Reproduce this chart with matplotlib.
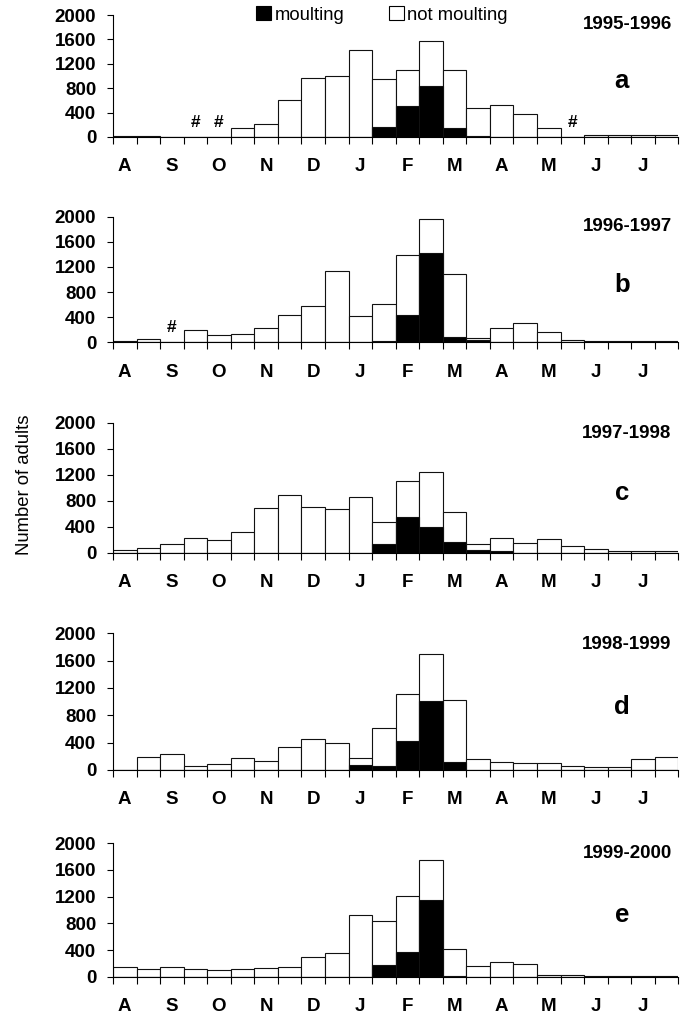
import matplotlib
matplotlib.use("Agg")
from matplotlib import pyplot as plt
from matplotlib.patches import Patch

plt.rcParams["font.family"] = ["Liberation Sans", "DejaVu Sans"]

# half-month counts, August to July
months = ["A", "S", "O", "N", "D", "J", "F", "M", "A", "M", "J", "J"]
seasons = ["1995-1996", "1996-1997", "1997-1998", "1998-1999", "1999-2000"]
letters = ["a", "b", "c", "d", "e"]

total_a = [15, 15, 5, 0, 0, 150, 210, 610, 970, 1000, 1420, 950,
           1100, 1580, 1100, 480, 520, 370, 150, 0, 40, 25, 30, 30]
moult_a = [0, 0, 0, 0, 0, 0, 0, 0, 0, 0, 0, 160,
           510, 840, 150, 20, 0, 0, 0, 0, 0, 0, 0, 0]
nodata_a = [3, 4, 19]

total_b = [15, 60, 0, 190, 120, 125, 230, 430, 580, 1140, 420, 610,
           1390, 1960, 1090, 70, 230, 310, 160, 40, 25, 15, 15, 20]
moult_b = [0, 0, 0, 0, 0, 0, 0, 0, 0, 0, 0, 25,
           440, 1420, 90, 30, 0, 0, 0, 0, 0, 0, 0, 0]
nodata_b = [2]

total_c = [40, 80, 140, 230, 200, 320, 690, 890, 710, 670, 850, 470,
           1110, 1240, 620, 130, 230, 150, 210, 100, 55, 30, 20, 20]
moult_c = [0, 0, 0, 0, 0, 0, 0, 0, 0, 0, 0, 130,
           550, 400, 170, 40, 30, 0, 0, 0, 0, 0, 0, 0]
nodata_c = []

total_d = [0, 190, 240, 60, 90, 170, 130, 330, 450, 390, 170, 610,
           1110, 1700, 1020, 160, 110, 100, 100, 60, 45, 45, 160, 190]
moult_d = [0, 0, 0, 0, 0, 0, 0, 0, 0, 0, 80, 60,
           420, 1010, 110, 0, 0, 0, 0, 0, 0, 0, 0, 0]
nodata_d = []

total_e = [150, 120, 150, 120, 100, 110, 130, 145, 300, 350, 920, 840,
           1210, 1750, 410, 160, 220, 190, 30, 25, 15, 15, 15, 15]
moult_e = [0, 0, 0, 0, 0, 0, 0, 0, 0, 0, 0, 170,
           370, 1150, 15, 0, 0, 0, 0, 0, 0, 0, 0, 0]
nodata_e = []

totals = [total_a, total_b, total_c, total_d, total_e]
moults = [moult_a, moult_b, moult_c, moult_d, moult_e]
nodata = [nodata_a, nodata_b, nodata_c, nodata_d, nodata_e]

W, H = 690, 1017
fig = plt.figure(figsize=(W / 100, H / 100), dpi=100)

# (pixel y of the 2000 line, pixel y of the 0 line) for each panel
rows = [(15, 137), (216.7, 342.3), (422.7, 552.7), (633.3, 770), (843.3, 976.7)]
x_left, x_right = 113, 678.3

for i, (top, base) in enumerate(rows):
    ax = fig.add_axes([x_left / W, 1 - base / H,
                       (x_right - x_left) / W, (base - top) / H])
    x = [k + 0.5 for k in range(24)]
    ax.bar(x, totals[i], width=1, color="white", edgecolor="#111111",
           linewidth=0.8, zorder=2)
    ax.bar(x, moults[i], width=1, color="black", edgecolor="#111111",
           linewidth=0.8, zorder=3)
    for k in nodata[i]:
        ax.text(k + 0.5, 240, "#", ha="center", va="center",
                fontsize=12.5, fontweight="bold")

    ax.set_xlim(0, 24)
    ax.set_ylim(0, 2000)
    ax.spines["top"].set_visible(False)
    ax.spines["right"].set_visible(False)
    ax.spines["left"].set_linewidth(0.8)
    ax.spines["bottom"].set_linewidth(0.8)
    ax.set_yticks(range(0, 2001, 400))
    ax.set_yticklabels([str(v) for v in range(0, 2001, 400)],
                       fontsize=13.5, fontweight="bold")
    ax.tick_params(axis="y", direction="out", length=4, width=0.8, pad=8)
    ax.set_xticks(range(25))
    ax.set_xticklabels([])
    ax.tick_params(axis="x", direction="out", length=5, width=0.8)

    for m, name in enumerate(months):
        ax.annotate(name, xy=(2 * m + 0.5, 0), xycoords=("data", "axes fraction"),
                    xytext=(0, -21.5), textcoords="offset points",
                    ha="center", va="center", fontsize=13.5, fontweight="bold",
                    annotation_clip=False)

    ax.text(23.72, 1840, seasons[i], ha="right", va="center",
            fontsize=13.5, fontweight="bold")
    ax.text(21.6, 920, letters[i], ha="center", va="center",
            fontsize=18.5, fontweight="bold")

fig.text(25 / W, 1 - 485 / H, "Number of adults", rotation=90,
         ha="center", va="center", fontsize=13.3)

handles = [Patch(facecolor="black", edgecolor="black", linewidth=0.8),
           Patch(facecolor="white", edgecolor="black", linewidth=0.8)]
fig.legend(handles, ["moulting", "not moulting"], ncol=2, frameon=False,
           loc="center", bbox_to_anchor=(382 / W, 1 - 15 / H),
           fontsize=13.3, handlelength=0.8, handleheight=0.8,
           handletextpad=0.2, columnspacing=2.4, borderpad=0, borderaxespad=0)

fig.savefig("out.png", dpi=100)
